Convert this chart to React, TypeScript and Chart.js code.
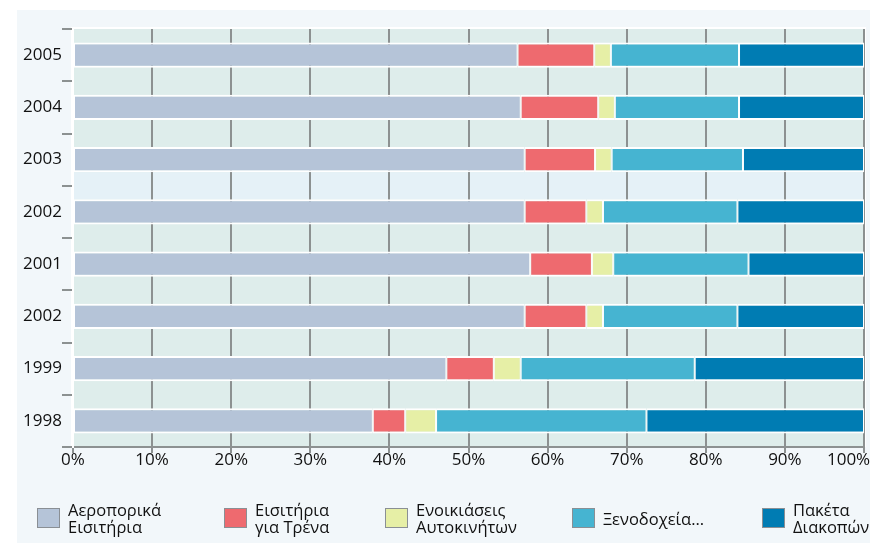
import React, { useEffect, useRef } from "react";
import { Chart, registerables } from "chart.js";

Chart.register(...registerables);

const categories = ["2005", "2004", "2003", "2002", "2001", "2002", "1999", "1998"];
const airTickets = [56.2, 56.6, 57.1, 57.1, 57.8, 57.1, 47.2, 37.9];
const trainTickets = [9.7, 9.8, 8.9, 7.8, 7.8, 7.8, 6.0, 4.1];
const carRentals = [2.1, 2.1, 2.1, 2.1, 2.7, 2.1, 3.4, 3.9];
const hotels = [16.2, 15.7, 16.6, 17.0, 17.1, 17.0, 22.0, 26.6];
const packages = [15.8, 15.8, 15.3, 16.0, 14.6, 16.0, 21.4, 27.5];
const xTicks = [0, 10, 20, 30, 40, 50, 60, 70, 80, 90, 100];

const seriesNames = [
  ["Αεροπορικά", "Εισιτήρια"],
  ["Εισιτήρια", "για Τρένα"],
  ["Ενοικιάσεις", "Αυτοκινήτων"],
  ["Ξενοδοχεία..."],
  ["Πακέτα", "Διακοπών"],
];
const seriesColors = ["#b5c4d8", "#ee6a6f", "#e6efa6", "#46b4d1", "#007cb3"];
const seriesValues = [airTickets, trainTickets, carRentals, hotels, packages];

const legendLeft = [37, 224, 385, 572, 762];
const BAR_PCT = 0.48;
const FONT = "'Open Sans', 'Noto Sans', sans-serif";

const bgPlugin = {
  id: "plotBg",
  beforeDraw(chart: any) {
    const { ctx, chartArea: a, scales } = chart;
    ctx.save();
    ctx.fillStyle = "#ffffff";
    ctx.fillRect(a.left - 2, a.top - 2, a.right - a.left + 4, a.bottom - a.top + 2);
    ctx.fillStyle = "#deedeb";
    ctx.fillRect(a.left, a.top, a.right - a.left, a.bottom - a.top);
    // highlighted band (hover) above the first 2002 row
    const y = scales.y;
    const slot = (a.bottom - a.top) / categories.length;
    const half = (slot * BAR_PCT) / 2;
    const y0 = y.getPixelForValue(2) + half;
    const y1 = y.getPixelForValue(3) - half;
    ctx.fillStyle = "#e5f1f7";
    ctx.fillRect(a.left, y0, a.right - a.left, y1 - y0);
    ctx.restore();
  },
};

export default function App() {
  const ref = useRef<HTMLCanvasElement>(null);

  useEffect(() => {
    if (!ref.current) return;
    const chart = new Chart(ref.current, {
      type: "bar",
      data: {
        labels: categories,
        datasets: seriesValues.map((vals, i) => ({
          label: seriesNames[i].join(" "),
          data: vals,
          backgroundColor: seriesColors[i],
          borderColor: "#ffffff",
          borderWidth: { top: 2, bottom: 2, left: 1, right: 1 },
          borderSkipped: false,
          barPercentage: BAR_PCT,
          categoryPercentage: 1,
        })),
      },
      options: {
        indexAxis: "y",
        animation: false,
        responsive: false,
        maintainAspectRatio: false,
        layout: { padding: { top: 29, right: 36, bottom: 66, left: 0 } },
        plugins: {
          legend: { display: false },
          tooltip: { enabled: false },
        },
        scales: {
          x: {
            stacked: true,
            min: 0,
            max: 100,
            afterBuildTicks: (s: any) => {
              s.ticks = xTicks.map((v) => ({ value: v }));
            },
            afterFit: (s: any) => {
              s.height = 30;
            },
            ticks: {
              // last label is kept inside the panel, as in the original
              callback: (v: any) => (v === 100 ? v + "%       " : v + "%"),
              color: "#111111",
              font: { family: FONT, size: 17 },
              padding: -3,
              maxRotation: 0,
            },
            grid: {
              color: "#8c9191",
              lineWidth: 2,
              tickLength: 6,
            },
            border: { display: true, color: "#8c9191", width: 2 },
          },
          y: {
            stacked: true,
            afterFit: (s: any) => {
              s.width = 73;
            },
            ticks: {
              color: "#111111",
              font: { family: FONT, size: 17 },
              padding: 0,
            },
            grid: {
              offset: true,
              drawOnChartArea: false,
              color: "#8c9191",
              lineWidth: 2,
              tickLength: 11,
            },
            border: { display: true, color: "#ffffff", width: 2 },
          },
        },
      },
      plugins: [bgPlugin],
    });
    return () => chart.destroy();
  }, []);

  return (
    <div
      style={{
        position: "absolute",
        left: 0,
        top: 0,
        width: 870,
        height: 543,
        overflow: "hidden",
        background: "#ffffff",
        fontFamily: FONT,
      }}
    >
      <div
        style={{
          position: "absolute",
          left: 17,
          top: 10,
          width: 853,
          height: 533,
          background: "#f2f7fa",
        }}
      />
      <canvas
        ref={ref}
        width={900}
        height={543}
        style={{ position: "absolute", left: 0, top: 0, width: 900, height: 543 }}
      />
      {seriesNames.map((lines, i) => (
        <div
          key={i}
          style={{
            position: "absolute",
            left: legendLeft[i],
            top: 500,
            height: 36,
            display: "flex",
            alignItems: "center",
            whiteSpace: "nowrap",
          }}
        >
          <div
            style={{
              width: 21,
              height: 18,
              background: seriesColors[i],
              border: "1px solid #8a8f94",
              marginRight: 8,
              flex: "none",
            }}
          />
          <div style={{ fontSize: 16.5, lineHeight: "17px", color: "#111111" }}>
            {lines.map((l, j) => (
              <div key={j}>{l}</div>
            ))}
          </div>
        </div>
      ))}
    </div>
  );
}
